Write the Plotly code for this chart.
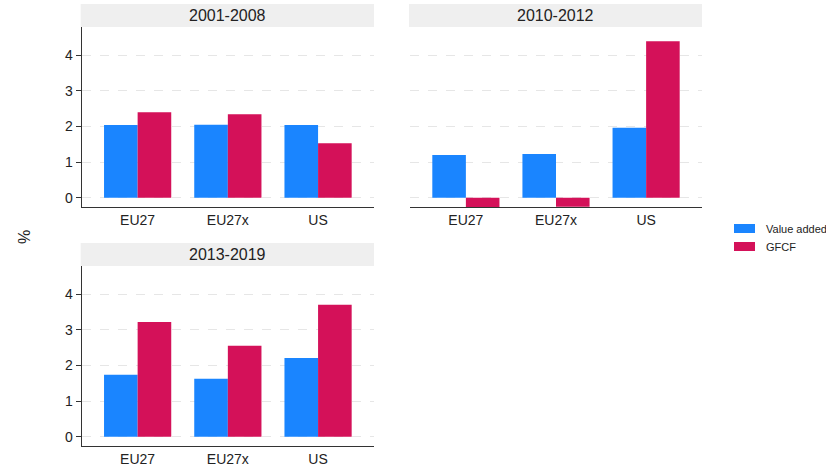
import plotly.graph_objects as go

categories = ["EU27", "EU27x", "US"]
periods = ["2001-2008", "2010-2012", "2013-2019"]
value_added = {
    "2001-2008": [2.04, 2.05, 2.04],
    "2010-2012": [1.20, 1.23, 1.96],
    "2013-2019": [1.74, 1.63, 2.21],
}
gfcf = {
    "2001-2008": [2.40, 2.34, 1.53],
    "2010-2012": [-0.26, -0.25, 4.39],
    "2013-2019": [3.22, 2.55, 3.70],
}
series_names = ["Value added", "GFCF"]
colors = ["#1a85ff", "#d41159"]
y_ticks = [0, 1, 2, 3, 4]

W, H = 826, 469
FONT = "Arial, Liberation Sans, sans-serif"

# panel geometry in pixels: (x0, x1, y0_top, y1_bottom)
panels = {
    "2001-2008": (81.7, 374.0, 27.0, 207.0),
    "2010-2012": (410.0, 702.0, 27.0, 207.0),
    "2013-2019": (81.7, 374.0, 266.0, 446.0),
}
strip_h = 23

fig = go.Figure()
layout = dict(
    width=W, height=H, margin=dict(l=0, r=0, t=0, b=0),
    paper_bgcolor="white", plot_bgcolor="white",
    font=dict(family=FONT, size=14, color="#222"),
    barmode="group", bargap=0.255, bargroupgap=0,
    showlegend=False,
)
shapes = []
annotations = []

for i, p in enumerate(periods):
    n = "" if i == 0 else str(i + 1)
    xa, ya = "x" + n, "y" + n
    for s, (name, vals) in enumerate(zip(series_names, [value_added[p], gfcf[p]])):
        fig.add_trace(go.Bar(x=categories, y=vals, name=name, marker_color=colors[s],
                             marker_line_width=0, xaxis=xa, yaxis=ya,
                             offsetgroup=str(s), showlegend=False))
    x0, x1, yt, yb = panels[p]
    show_left = p != "2010-2012"
    layout["xaxis" + n] = dict(
        domain=[x0 / W, x1 / W], anchor=ya, range=[-0.62, 2.62],
        showline=True, linecolor="#333", linewidth=1, ticks="",
        showgrid=False, zeroline=False, tickfont=dict(size=14, color="#222"),
        fixedrange=True,
    )
    layout["yaxis" + n] = dict(
        domain=[1 - yb / H, 1 - yt / H], anchor=xa, range=[-0.26, 4.79],
        tickvals=y_ticks, showticklabels=show_left, showline=show_left,
        linecolor="#333", linewidth=1, ticks="outside" if show_left else "",
        ticklen=5, tickcolor="#333",
        showgrid=True, gridcolor="#e6e6e6", griddash="dash", gridwidth=1,
        zeroline=False, tickfont=dict(size=14, color="#222"), fixedrange=True,
    )
    # strip header
    sx0 = x0 - 1
    shapes.append(dict(type="rect", xref="paper", yref="paper",
                       x0=sx0 / W, x1=x1 / W, y0=1 - yt / H, y1=1 - (yt - strip_h) / H,
                       fillcolor="#efefef", line_width=0, layer="below"))
    annotations.append(dict(text=p, xref="paper", yref="paper",
                            x=(sx0 + x1) / 2 / W, y=1 - (yt - strip_h / 2) / H,
                            showarrow=False, xanchor="center", yanchor="middle",
                            font=dict(size=16, color="#222")))

# y title
annotations.append(dict(text="%", xref="paper", yref="paper", x=25 / W, y=1 - 237 / H,
                        showarrow=False, textangle=-90, xanchor="center", yanchor="middle",
                        font=dict(size=16, color="#222")))

# legend
leg_rows = [(224, 233), (242, 251)]
for (ly0, ly1), name, c in zip(leg_rows, series_names, colors):
    shapes.append(dict(type="rect", xref="paper", yref="paper",
                       x0=734 / W, x1=755 / W, y0=1 - ly1 / H, y1=1 - ly0 / H,
                       fillcolor=c, line_width=0))
    annotations.append(dict(text=name, xref="paper", yref="paper", x=764 / W,
                            y=1 - (ly0 + ly1) / 2 / H, showarrow=False,
                            xanchor="left", yanchor="middle",
                            font=dict(size=11, color="#222")))

layout["shapes"] = shapes
layout["annotations"] = annotations
fig.update_layout(**layout)
fig.write_html(
    "out.html",
    config={"displayModeBar": False},
    post_script="document.body.style.margin='0';document.body.style.overflow='hidden';",
)
